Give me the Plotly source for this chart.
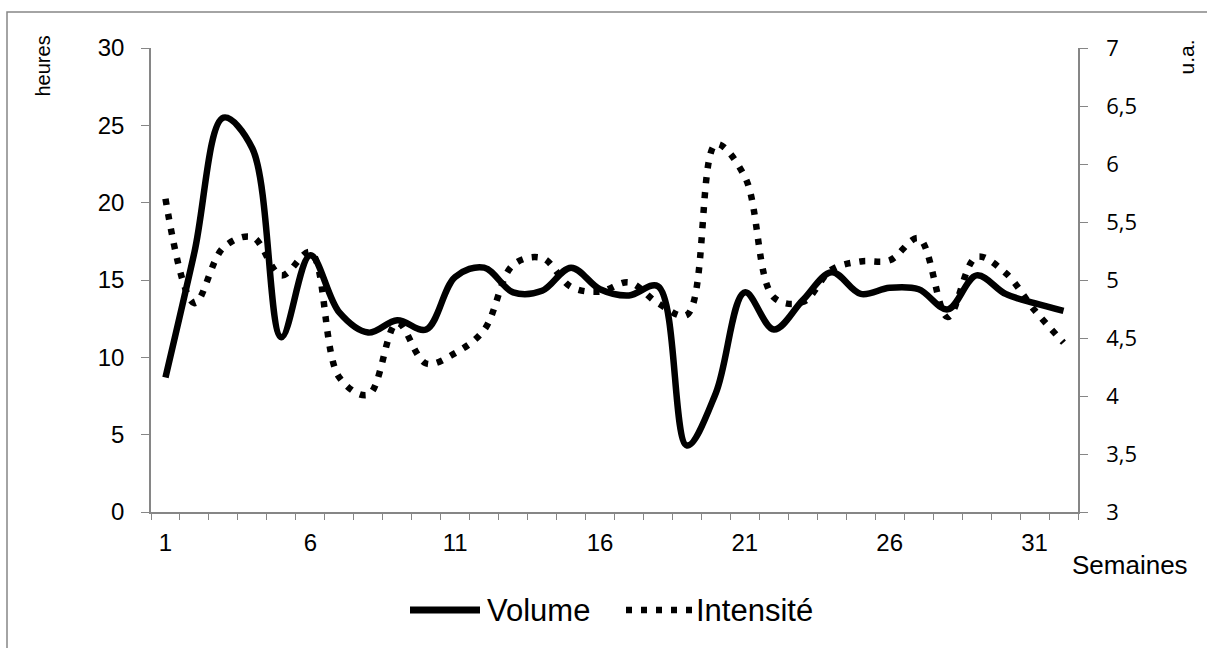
import plotly.graph_objects as go

# Weekly training load
weeks = list(range(1, 33))
volume = [8.7, 16.8, 25.5, 23.5, 11.3, 16.6, 12.9, 11.6, 12.4, 11.8,
          15.2, 15.8, 14.2, 14.3, 15.8, 14.4, 14.0, 14.6, 4.3, 7.7,
          14.2, 11.8, 13.7, 15.5, 14.1, 14.5, 14.4, 13.1, 15.3, 14.1,
          13.5, 13.0]
intensite = [5.70, 4.80, 5.28, 5.37, 5.04, 5.24, 4.16, 4.01, 4.63, 4.28,
             4.37, 4.57, 5.13, 5.19, 4.94, 4.90, 4.98, 4.80, 4.70, 6.17,
             5.89, 4.85, 4.81, 5.09, 5.16, 5.17, 5.36, 4.68, 5.20, 5.06,
             4.74, 4.46]
x_tick_vals = [1, 6, 11, 16, 21, 26, 31]
left_ticks = [0, 5, 10, 15, 20, 25, 30]
right_ticks = [3, 3.5, 4, 4.5, 5, 5.5, 6, 6.5, 7]
right_tick_text = [str(v).replace(".", ",") for v in right_ticks]

AXIS_GREY = "#868686"
SANS = "Liberation Sans, Arial, sans-serif"
W, H = 1207, 648
L, R, T, B = 151, 129, 48, 136
pw, ph = W - L - R, H - T - B
DOT_DASH = "6px,9px"


def px(x):
    return (x - L) / pw


def py(y):
    return (H - B - y) / ph


fig = go.Figure()
fig.add_trace(go.Scatter(
    x=weeks, y=volume, name="Volume", mode="lines",
    line=dict(color="black", width=6.5, shape="spline", smoothing=1.0),
))
fig.add_trace(go.Scatter(
    x=weeks, y=intensite, name="Intensité", mode="lines", yaxis="y2",
    line=dict(color="black", width=6.5, dash=DOT_DASH, shape="spline", smoothing=1.0),
))

fig.update_layout(
    width=W, height=H,
    margin=dict(l=L, r=R, t=T, b=B),
    paper_bgcolor="white", plot_bgcolor="white",
    font=dict(family=SANS, color="black", size=24),
    showlegend=False,
    xaxis=dict(
        range=[0.5, 32.5], showgrid=False, zeroline=False,
        showline=True, linecolor=AXIS_GREY, linewidth=1.5,
        tickvals=x_tick_vals, ticks="", ticklabelstandoff=8,
        tickfont=dict(size=24),
        minor=dict(tick0=0.5, dtick=1, ticks="outside", ticklen=6,
                   tickcolor=AXIS_GREY, showgrid=False),
    ),
    yaxis=dict(
        range=[0, 30], showgrid=False, zeroline=False,
        showline=True, linecolor=AXIS_GREY, linewidth=1.5,
        tickvals=left_ticks, ticks="outside", ticklen=8, tickcolor=AXIS_GREY,
        ticklabelstandoff=12, tickfont=dict(size=24),
    ),
    yaxis2=dict(
        range=[3, 7], overlaying="y", side="right", showgrid=False, zeroline=False,
        showline=True, linecolor=AXIS_GREY, linewidth=1.5,
        tickvals=right_ticks, ticktext=right_tick_text,
        ticks="outside", ticklen=8, tickcolor=AXIS_GREY,
        ticklabelstandoff=14,
        tickfont=dict(family="Open Sans, DejaVu Sans, sans-serif", size=22),
    ),
)

# Axis titles
fig.add_annotation(text="heures", x=px(42), y=py(34), xref="paper", yref="paper",
                   textangle=-90, xanchor="center", yanchor="top", showarrow=False,
                   font=dict(size=20))
fig.add_annotation(text="u.a.", x=px(1186), y=py(38), xref="paper", yref="paper",
                   textangle=-90, xanchor="center", yanchor="top", showarrow=False,
                   font=dict(size=21))
fig.add_annotation(text="Semaines", x=px(1130), y=py(565), xref="paper", yref="paper",
                   xanchor="center", yanchor="middle", showarrow=False,
                   font=dict(size=26))

# Legend, drawn below the plot area
LEG_Y = py(610)
fig.add_shape(type="line", xref="paper", yref="paper",
              x0=px(410), x1=px(480), y0=LEG_Y, y1=LEG_Y,
              line=dict(color="black", width=7))
fig.add_annotation(text="Volume", x=px(485), y=LEG_Y, xref="paper", yref="paper",
                   xanchor="left", yanchor="middle", showarrow=False,
                   font=dict(size=31))
fig.add_shape(type="line", xref="paper", yref="paper",
              x0=px(626), x1=px(696), y0=LEG_Y, y1=LEG_Y,
              line=dict(color="black", width=6.5, dash=DOT_DASH))
fig.add_annotation(text="Intensité", x=px(694), y=LEG_Y, xref="paper", yref="paper",
                   xanchor="left", yanchor="middle", showarrow=False,
                   font=dict(size=31))

# Chart frame
fig.add_shape(type="rect", xref="paper", yref="paper",
              x0=px(7), y0=py(660), x1=px(1220), y1=py(12),
              line=dict(color=AXIS_GREY, width=1.5), layer="below")

fig.write_html("out.html")
